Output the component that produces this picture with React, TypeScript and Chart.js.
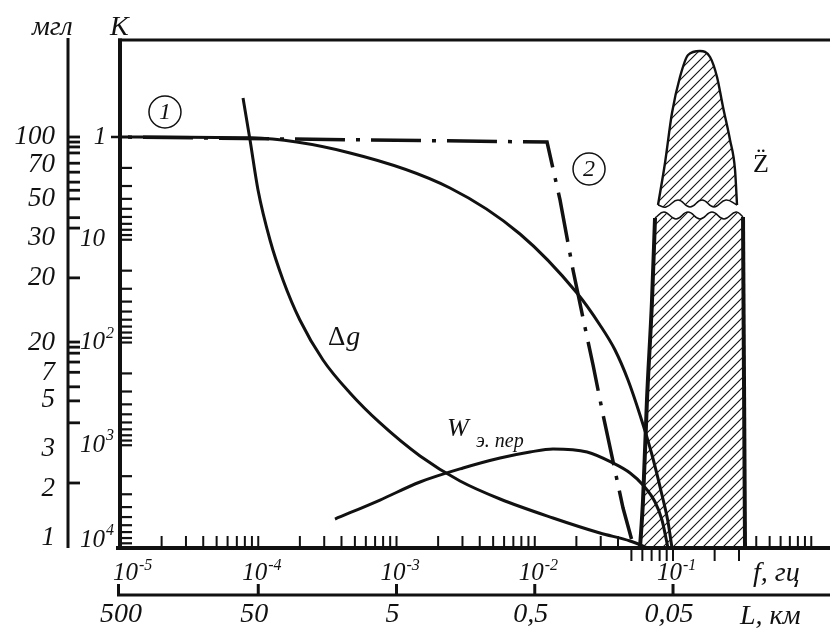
import React, { useEffect, useRef } from "react";
import { Chart, registerables } from "chart.js";

Chart.register(...registerables);

const INK = "#111";
const SERIF = '"Liberation Serif", "DejaVu Serif", "Times New Roman", serif';

// axis extents (f in Hz, K dimensionless)
const F_MIN = 1e-5;
const F_MAX = 1.366;
const K_MIN = 0.1138;
const K_MAX = 10000;

// curve (1)
const curve1F = [1e-5, 8.72e-5, 4.61e-4, 2.438e-3, 7.82e-3, 2.02e-2, 2.96e-2, 3.806e-2, 4.725e-2, 5.77e-2, 7.05e-2, 8.32e-2, 9.2e-2, 9.83e-2];
const curve1K = [1, 1.02, 1.431, 3.135, 8.79, 33, 67.5, 118.3, 231.6, 507.6, 1244, 3048, 5585, 10000];

// dash-dot curve (2)
const curve2F = [1e-5, 1.227e-2, 1.523e-2, 1.891e-2, 2.234e-2, 2.64e-2, 3.12e-2, 4.35e-2, 5.22e-2];
const curve2K = [1, 1.12, 4.1, 19.7, 57.8, 165.6, 508, 4080, 10000];

// Δg
const dgF = [7.76e-5, 8.72e-5, 9.96e-5, 1.216e-4, 1.51e-4, 2.0e-4, 2.94e-4, 4.61e-4, 7.6e-4, 1.48e-3, 2.88e-3, 5.61e-3, 1.355e-2, 2.96e-2, 4.89e-2, 6.595e-2];
const dgK = [0.417, 1.07, 3.28, 10.06, 24.6, 60.4, 148, 310, 607, 1272, 2228, 3335, 5103, 7145, 8544, 10000];

// W э.пер
const wF = [3.59e-4, 7.6e-4, 1.48e-3, 3.03e-3, 5.61e-3, 9.24e-3, 1.355e-2, 2.39e-2, 3.68e-2, 4.89e-2, 6.06e-2, 7.41e-2, 8.32e-2, 9.2e-2];
const wK = [5224, 3411, 2278, 1665, 1331, 1164, 1087, 1164, 1489, 1862, 2436, 3566, 5340, 10000];

// Z̈ band, lower part
const lowLeftF = [5.77e-2, 6.07e-2, 6.48e-2, 7.05e-2, 7.41e-2];
const lowLeftK = [10000, 3411, 363, 38.6, 6.14];
const lowTopF = [7.41e-2, 8.61e-2, 0.1051, 0.1284, 0.1568, 0.1914, 0.2338, 0.2856, 0.3208];
const lowTopK = [6.14, 5.37, 6.28, 5.37, 6.28, 5.37, 6.28, 5.37, 6.0];
const lowRightF = [0.3208, 0.3317];
const lowRightK = [6.0, 10000];

// Z̈ band, upper part
const upOutlineF = [0.0779, 0.0875, 0.0983, 0.1123, 0.1284, 0.1568, 0.1852, 0.2081, 0.2299, 0.2584, 0.2809, 0.2904];
const upOutlineK = [4.59, 1.79, 0.584, 0.2607, 0.1592, 0.1456, 0.1665, 0.2607, 0.5105, 1.07, 2.095, 4.59];
const upBottomF = [0.0779, 0.089, 0.1087, 0.1327, 0.1621, 0.1979, 0.2416, 0.2904];
const upBottomK = [4.59, 4.8, 4.1, 4.8, 4.1, 4.8, 4.1, 4.59];

// axis ticks and labels
const mglTickK = [1, 1.12, 1.25, 1.43, 1.8, 2.2, 2.75, 3.3, 4, 6.1, 7.7, 23.5, 99, 111, 127, 155, 195, 270, 370, 605, 2330];
const mglLabels = ["100", "70", "50", "30", "20", "20", "7", "5", "3", "2", "1"];
const mglLabelK = [1, 1.87, 4.0, 9.6, 23.6, 101, 198, 363, 1088, 2666, 8000];
const kLabelBase = ["1", "10", "10", "10", "10"];
const kLabelExp = ["", "", "2", "3", "4"];
const kLabelK = [1, 10, 100, 1000, 10000];
const fLabelF = [1e-5, 1e-4, 1e-3, 1e-2, 1e-1];
const fLabelExp = ["-5", "-4", "-3", "-2", "-1"];
const lTickF = [1e-5, 1e-4, 1e-3, 1e-2, 1e-1];
const lLabels = ["500", "50", "5", "0,5", "0,05"];
const fTicksBelow = [0.05, 0.06, 0.07, 0.08, 0.09, 0.1, 0.2, 0.3];

const pts = (F: number[], K: number[]) => F.map((f, i) => ({ x: f, y: K[i] }));

const axesPlugin = {
  id: "customAxes",
  afterDatasetsDraw(chart: any) {
    const { ctx, chartArea: ca, scales } = chart;
    const xs = scales.x;
    const ys = scales.y;
    const X = (v: number) => xs.getPixelForValue(v);
    const Y = (v: number) => ys.getPixelForValue(v);
    ctx.save();
    ctx.strokeStyle = INK;
    ctx.fillStyle = INK;
    ctx.lineCap = "butt";
    const line = (x1: number, y1: number, x2: number, y2: number, w: number) => {
      ctx.lineWidth = w;
      ctx.beginPath();
      ctx.moveTo(x1, y1);
      ctx.lineTo(x2, y2);
      ctx.stroke();
    };
    // frame
    line(ca.left - 2, ca.top, ca.right, ca.top, 3);
    line(ca.left, ca.top - 1.5, ca.left, ca.bottom + 2, 4);
    line(ca.left - 4, ca.bottom, ca.right, ca.bottom, 4);

    // K ticks (inside)
    for (let e = 0; e <= 3; e++) {
      for (let m = 1; m <= 9; m++) {
        const v = m * Math.pow(10, e);
        if (v === 1) continue;
        const y = Y(v);
        line(ca.left, y, ca.left + 12, y, 2.2);
      }
    }
    line(ca.left - 9, Y(1), ca.left, Y(1), 2.5);

    // f ticks
    for (let e = -5; e <= 0; e++) {
      for (let m = 1; m <= 9; m++) {
        const v = m * Math.pow(10, e);
        if (v <= F_MIN * 1.001 || v > F_MAX) continue;
        const x = X(v);
        const below = fTicksBelow.some((b) => Math.abs(b - v) / v < 1e-6);
        if (below) line(x, ca.bottom, x, ca.bottom + 13, 2);
        else line(x, ca.bottom, x, ca.bottom - 12, 2);
      }
    }

    // mgl axis
    const mx = ca.left - 52;
    line(mx, ca.top - 2, mx, ca.bottom, 3);
    mglTickK.forEach((v) => {
      const y = Y(v);
      line(mx, y, mx + 12, y, 2.8);
    });

    // L axis
    const ly = ca.bottom + 47;
    line(ca.left - 3, ly, ca.right, ly, 3);
    lTickF.forEach((f) => {
      const x = f === F_MIN ? ca.left - 1.5 : X(f);
      line(x, ly, x, ly - 11, 3);
    });

    // titles
    ctx.textBaseline = "alphabetic";
    ctx.textAlign = "left";
    ctx.font = `italic 28px ${SERIF}`;
    ctx.fillText("мгл", ca.left - 88, ca.top - 5);
    ctx.fillText("К", ca.left - 10, ca.top - 5);

    // mgl labels
    ctx.textAlign = "right";
    ctx.textBaseline = "middle";
    ctx.font = `italic 27px ${SERIF}`;
    mglLabels.forEach((t, i) => ctx.fillText(t, mx - 13, Y(mglLabelK[i])));

    // K labels
    ctx.textAlign = "left";
    kLabelBase.forEach((b, i) => {
      let y = Y(kLabelK[i]);
      if (y > ca.bottom - 8) y = ca.bottom - 8;
      ctx.font = `italic 25px ${SERIF}`;
      if (b === "1") {
        ctx.textAlign = "center";
        ctx.fillText(b, ca.left - 20, y);
        ctx.textAlign = "left";
        return;
      }
      const x0 = ca.left - 40;
      ctx.fillText(b, x0, y);
      const w = ctx.measureText(b).width;
      if (kLabelExp[i]) {
        ctx.font = `italic 16px ${SERIF}`;
        ctx.fillText(kLabelExp[i], x0 + w + 1, y - 9);
      }
    });

    // f labels
    ctx.textBaseline = "alphabetic";
    const fy = ca.bottom + 32;
    fLabelF.forEach((f, i) => {
      const x0 = Math.max(X(f) - 16, ca.left - 7);
      ctx.font = `italic 25px ${SERIF}`;
      ctx.fillText("10", x0, fy);
      const w = ctx.measureText("10").width;
      ctx.font = `italic 16px ${SERIF}`;
      ctx.fillText(fLabelExp[i], x0 + w + 1, fy - 10);
    });
    ctx.font = `italic 28px ${SERIF}`;
    ctx.fillText("f, гц", ca.right - 77, fy + 1);

    // L labels
    const lby = ly + 27;
    ctx.font = `italic 28px ${SERIF}`;
    lLabels.forEach((t, i) => {
      const w = ctx.measureText(t).width;
      let x0 = X(lTickF[i]) - 4 - w / 2;
      if (x0 < ca.left - 20) x0 = ca.left - 20;
      ctx.fillText(t, x0, lby);
    });
    ctx.fillText("L, км", ca.right - 90, lby + 2);

    // annotations
    const circ = (f: number, k: number, t: string) => {
      const cx = X(f);
      const cy = Y(k);
      ctx.lineWidth = 1.5;
      ctx.beginPath();
      ctx.arc(cx, cy, 16, 0, Math.PI * 2);
      ctx.stroke();
      ctx.font = `italic 24px ${SERIF}`;
      ctx.textAlign = "center";
      ctx.textBaseline = "middle";
      ctx.fillText(t, cx, cy + 1);
    };
    circ(2.115e-5, 0.571, "1");
    circ(0.02469, 2.05, "2");

    ctx.textAlign = "center";
    ctx.textBaseline = "middle";
    ctx.font = `26px ${SERIF}`;
    ctx.fillText("Z\u0308", X(0.433), Y(1.87));

    ctx.textAlign = "left";
    ctx.textBaseline = "alphabetic";
    ctx.font = `27px ${SERIF}`;
    const dx = X(3.195e-4);
    const dy = Y(105.8);
    ctx.fillText("Δ", dx, dy);
    const dw = ctx.measureText("Δ").width;
    ctx.font = `italic 28px ${SERIF}`;
    ctx.fillText("g", dx + dw + 1, dy);

    ctx.font = `italic 26px ${SERIF}`;
    ctx.fillText("W", X(2.319e-3), Y(813));
    ctx.font = `italic 20px ${SERIF}`;
    ctx.fillText("э. пер", X(3.758e-3), Y(1040));

    ctx.restore();
  },
};

export default function App() {
  const ref = useRef<HTMLCanvasElement>(null);
  useEffect(() => {
    const canvas = ref.current;
    if (!canvas) return;
    const pc = document.createElement("canvas");
    pc.width = 10;
    pc.height = 10;
    const p = pc.getContext("2d")!;
    p.strokeStyle = INK;
    p.lineWidth = 1.1;
    p.beginPath();
    p.moveTo(-2, 2);
    p.lineTo(2, -2);
    p.moveTo(-2, 12);
    p.lineTo(12, -2);
    p.moveTo(8, 12);
    p.lineTo(12, 8);
    p.stroke();
    const pattern = canvas.getContext("2d")!.createPattern(pc, "repeat")!;

    const base = { pointRadius: 0, borderColor: INK, fill: false, tension: 0 };
    const smooth = { cubicInterpolationMode: "monotone" };
    const chart = new Chart(canvas, {
      type: "line",
      data: {
        datasets: [
          { ...base, ...smooth, data: pts(curve1F, curve1K), borderWidth: 3 },
          {
            ...base,
            data: pts(curve2F, curve2K),
            borderWidth: 3.5,
            borderDash: [50, 11, 4, 11],
            borderDashOffset: 53,
          },
          { ...base, ...smooth, data: pts(dgF, dgK), borderWidth: 3 },
          { ...base, ...smooth, data: pts(wF, wK), borderWidth: 3 },
          { ...base, ...smooth, data: pts(lowLeftF, lowLeftK), borderWidth: 4 },
          { ...base, data: pts(lowRightF, lowRightK), borderWidth: 4 },
          { ...base, data: pts(lowTopF, lowTopK), borderWidth: 1.5, tension: 0.45 },
          {
            ...base,
            ...smooth,
            data: pts(upOutlineF, upOutlineK),
            borderWidth: 2.4,
            fill: 8,
            backgroundColor: pattern,
            order: 5,
          },
          { ...base, data: pts(upBottomF, upBottomK), borderWidth: 1.5, tension: 0.45, order: 4 },
          {
            ...base,
            data: pts([...lowLeftF, ...lowTopF.slice(1), ...lowRightF.slice(1)], [...lowLeftK, ...lowTopK.slice(1), ...lowRightK.slice(1)]),
            borderWidth: 0,
            borderColor: "rgba(0,0,0,0)",
            fill: "start",
            backgroundColor: pattern,
            order: 10,
          },
        ] as any,
      },
      options: {
        animation: false,
        responsive: false,
        devicePixelRatio: 1,
        events: [],
        layout: { padding: { left: 120, right: 0, top: 40, bottom: 83 } },
        scales: {
          x: { type: "logarithmic", min: F_MIN, max: F_MAX, display: false },
          y: { type: "logarithmic", min: K_MIN, max: K_MAX, reverse: true, display: false },
        },
        plugins: { legend: { display: false }, tooltip: { enabled: false } },
      } as any,
      plugins: [axesPlugin],
    });
    return () => chart.destroy();
  }, []);

  return (
    <div style={{ position: "fixed", left: 0, top: 0, width: 830, height: 631, background: "#fff" }}>
      <canvas ref={ref} width={830} height={631} style={{ display: "block" }} />
    </div>
  );
}
